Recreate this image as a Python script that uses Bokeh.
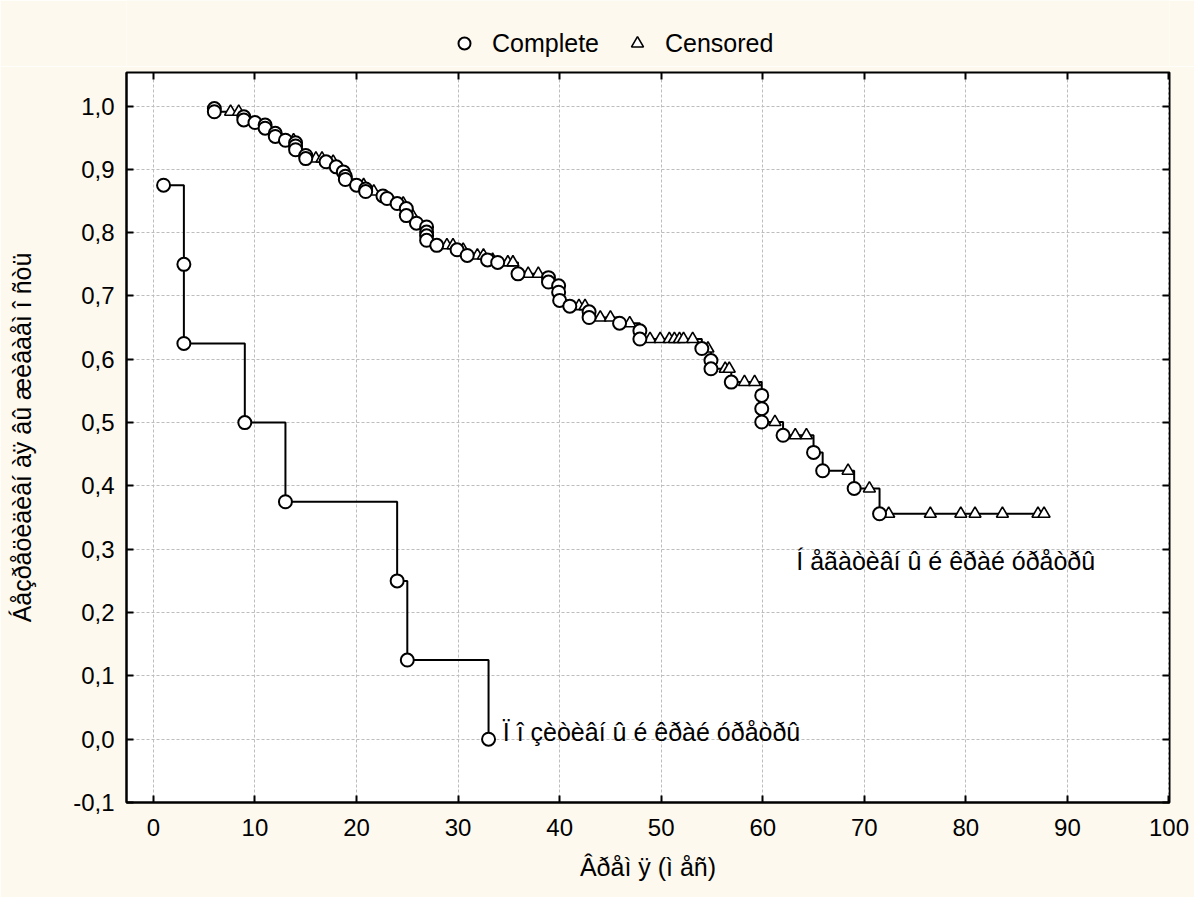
from bokeh.plotting import figure
from bokeh.layouts import column
from bokeh.models import (FixedTicker, CustomJSTickFormatter, LinearAxis, Legend,
                          LegendItem, Range1d, Label)
from bokeh.embed import file_html
from bokeh.resources import INLINE

# ---------------- data ----------------
# negative margin group: complete (event) times and survival values
neg_event_t = [6, 6, 8.9, 8.9, 10, 11, 11, 12, 12, 13, 14, 14, 14, 15, 15, 17,
               18, 18.7, 18.9, 18.9, 20, 20.9, 20.9, 22.6, 23, 24, 24.9, 24.9,
               25.9, 26.9, 26.9, 26.9, 26.9, 27.9, 29.9, 30.9, 32.9, 33.9, 35.9,
               38.9, 38.9, 39.9, 39.9, 40, 41, 42.9, 42.9, 45.9, 47.9, 47.9, 54,
               54.9, 54.9, 56.9, 59.9, 59.9, 59.9, 62, 65, 65.9, 69, 71.5]
neg_event_s = [0.996, 0.991, 0.983, 0.978, 0.974, 0.970, 0.965, 0.957, 0.952,
               0.946, 0.942, 0.937, 0.931, 0.922, 0.917, 0.912, 0.904, 0.896,
               0.889, 0.884, 0.875, 0.869, 0.865, 0.858, 0.854, 0.846, 0.838,
               0.827, 0.815, 0.809, 0.801, 0.795, 0.788, 0.780, 0.773, 0.764,
               0.757, 0.753, 0.735, 0.729, 0.722, 0.716, 0.706, 0.693, 0.684,
               0.675, 0.666, 0.657, 0.645, 0.632, 0.617, 0.598, 0.585, 0.564,
               0.543, 0.522, 0.501, 0.480, 0.453, 0.424, 0.396, 0.356]
# negative margin group: censored times and survival values
neg_cens_t = [7.6, 8.4, 13.8, 16, 16.6, 17.7, 20.7, 21.7, 24.6, 25.5, 28.9, 29.5,
              30.5, 31.9, 32.5, 33.4, 34.9, 35.4, 36.9, 37.9, 41.9, 42.5, 44, 45,
              46.9, 48.9, 49.9, 50.8, 51.3, 51.8, 52.2, 53.1, 54.6, 56.3, 56.7,
              58.2, 59.2, 61.2, 63.2, 64.3, 68.4, 70.5, 72.4, 76.5, 79.5, 80.9,
              83.6, 87.1, 87.7]
neg_cens_s = [0.991, 0.991, 0.946, 0.917, 0.917, 0.912, 0.875, 0.865, 0.846,
              0.827, 0.780, 0.780, 0.773, 0.764, 0.764, 0.757, 0.753, 0.753,
              0.735, 0.735, 0.684, 0.684, 0.666, 0.666, 0.657, 0.632, 0.632,
              0.632, 0.632, 0.632, 0.632, 0.632, 0.617, 0.585, 0.585, 0.564,
              0.564, 0.501, 0.480, 0.480, 0.424, 0.396, 0.356, 0.356, 0.356,
              0.356, 0.356, 0.356, 0.356]
# positive margin group: complete (event) times and survival values
pos_event_t = [1, 3, 3, 9, 13, 24, 25, 33]
pos_event_s = [0.875, 0.75, 0.625, 0.5, 0.375, 0.25, 0.125, 0.0]
pos_cens_t = []
pos_cens_s = []

x_ticks = [0, 10, 20, 30, 40, 50, 60, 70, 80, 90, 100]
y_ticks = [-0.1, 0.0, 0.1, 0.2, 0.3, 0.4, 0.5, 0.6, 0.7, 0.8, 0.9, 1.0]
legend_labels = ["Complete", "Censored"]
curve_labels = ["Í åãàòèâí û é êðàé óðåòðû", "Ï î çèòèâí û é êðàé óðåòðû"]
curve_label_x = [63.3, 34.4]
curve_label_y = [0.282, 0.012]
x_title = "Âðåì ÿ (ì åñ)"
y_title = "Áåçðåöèäèâí àÿ âû æèâàåì î ñòü"

# ---------------- styling ----------------
FONT = "Liberation Sans"
BG = "#FDF9EE"
TOP_H = 66

p = figure(width=1194, height=897 - TOP_H, output_backend="svg",
           toolbar_location=None,
           x_range=Range1d(-2.65, 100.05), y_range=Range1d(-0.1, 1.053),
           min_border_left=126, min_border_right=25, min_border_top=6,
           min_border_bottom=95)
p.background_fill_color = "white"
p.border_fill_color = BG
p.outline_line_color = "black"
p.outline_line_width = 2

p.xaxis.ticker = FixedTicker(ticks=x_ticks)
p.yaxis.ticker = FixedTicker(ticks=y_ticks)
p.yaxis.formatter = CustomJSTickFormatter(code="return tick.toFixed(1).replace('.', ',')")
for ax in (p.xaxis[0], p.yaxis[0]):
    ax.major_tick_in = 7
    ax.major_tick_out = 0
    ax.minor_tick_line_color = None
    ax.major_tick_line_width = 2
    ax.axis_line_width = 2
    ax.major_label_text_font = FONT
    ax.major_label_text_font_size = "24px"
    ax.major_label_text_color = "black"
    ax.axis_label_text_font = FONT
    ax.axis_label_text_font_size = "25px"
    ax.axis_label_text_font_style = "normal"
    ax.axis_label_text_color = "black"
p.xaxis.axis_label = x_title
p.yaxis.axis_label = y_title
p.xaxis.major_label_standoff = 16
p.xaxis.axis_label_standoff = 14
p.yaxis.major_label_standoff = 12
p.yaxis.axis_label_standoff = 34

# tick marks on top and right edges
for side, tk in (("above", x_ticks), ("right", y_ticks)):
    ax = LinearAxis(ticker=FixedTicker(ticks=tk),
                    formatter=CustomJSTickFormatter(code="return ''"))
    ax.major_tick_in = 7
    ax.major_tick_out = 0
    ax.major_tick_line_width = 2
    ax.minor_tick_line_color = None
    ax.axis_line_color = None
    ax.major_label_standoff = 0
    ax.major_label_text_font_size = "1px"
    p.add_layout(ax, side)

p.xgrid.ticker = FixedTicker(ticks=x_ticks)
p.ygrid.ticker = FixedTicker(ticks=y_ticks)
for g in (p.xgrid[0], p.ygrid[0]):
    g.grid_line_color = "#BDBDBD"
    g.grid_line_dash = "3 2"
    g.grid_line_width = 1


def km_path(et, es, ct, cs):
    pts = sorted(zip(list(et) + list(ct), list(es) + list(cs)),
                 key=lambda q: (q[0], -q[1]))
    return [q[0] for q in pts], [q[1] for q in pts]


for et, es, ct, cs in ((neg_event_t, neg_event_s, neg_cens_t, neg_cens_s),
                       (pos_event_t, pos_event_s, pos_cens_t, pos_cens_s)):
    xs, ys = km_path(et, es, ct, cs)
    p.step(xs, ys, mode="after", line_color="black", line_width=2)

CIRC = dict(marker="circle", size=13, fill_color="white", line_color="black", line_width=2)
TRI = dict(marker="triangle", size=12, fill_color="white", line_color="black", line_width=1.6)

p.scatter(neg_cens_t, neg_cens_s, **TRI)
p.scatter(neg_event_t, neg_event_s, **CIRC)
p.scatter(pos_event_t, pos_event_s, **CIRC)

for txt, lx, ly in zip(curve_labels, curve_label_x, curve_label_y):
    p.add_layout(Label(x=lx, y=ly, text=txt, text_font=FONT,
                       text_font_size="25px", text_color="black",
                       text_baseline="middle", text_align="left"))

# ---------------- legend strip on top ----------------
# its ranges lie far from the data, so the sample glyphs only feed the legend
lf = figure(width=1194, height=TOP_H, output_backend="svg", toolbar_location=None,
            x_axis_type=None, y_axis_type=None, x_range=Range1d(1000, 1001),
            y_range=Range1d(1000, 1001), min_border=0)
lf.grid.visible = False
lf.outline_line_color = None
lf.background_fill_color = BG
lf.border_fill_color = BG
lg_circ = lf.scatter(neg_event_t[:1], neg_event_s[:1], **CIRC)
lg_tri = lf.scatter(neg_cens_t[:1], neg_cens_s[:1], **TRI)

legend = Legend(items=[LegendItem(label=legend_labels[0], renderers=[lg_circ]),
                       LegendItem(label=legend_labels[1], renderers=[lg_tri])],
                orientation="horizontal", location=(449 - 126, TOP_H - 58))
legend.glyph_width = 30
legend.glyph_height = 30
legend.label_height = 30
legend.label_standoff = 13
legend.spacing = 23
legend.padding = 0
legend.margin = 0
legend.border_line_color = None
legend.background_fill_alpha = 0
legend.label_text_font = FONT
legend.label_text_font_size = "25px"
legend.label_text_color = "black"
lf.add_layout(legend, "center")

layout = column(lf, p, spacing=0)
open("out.html", "w").write(file_html(layout, INLINE))
